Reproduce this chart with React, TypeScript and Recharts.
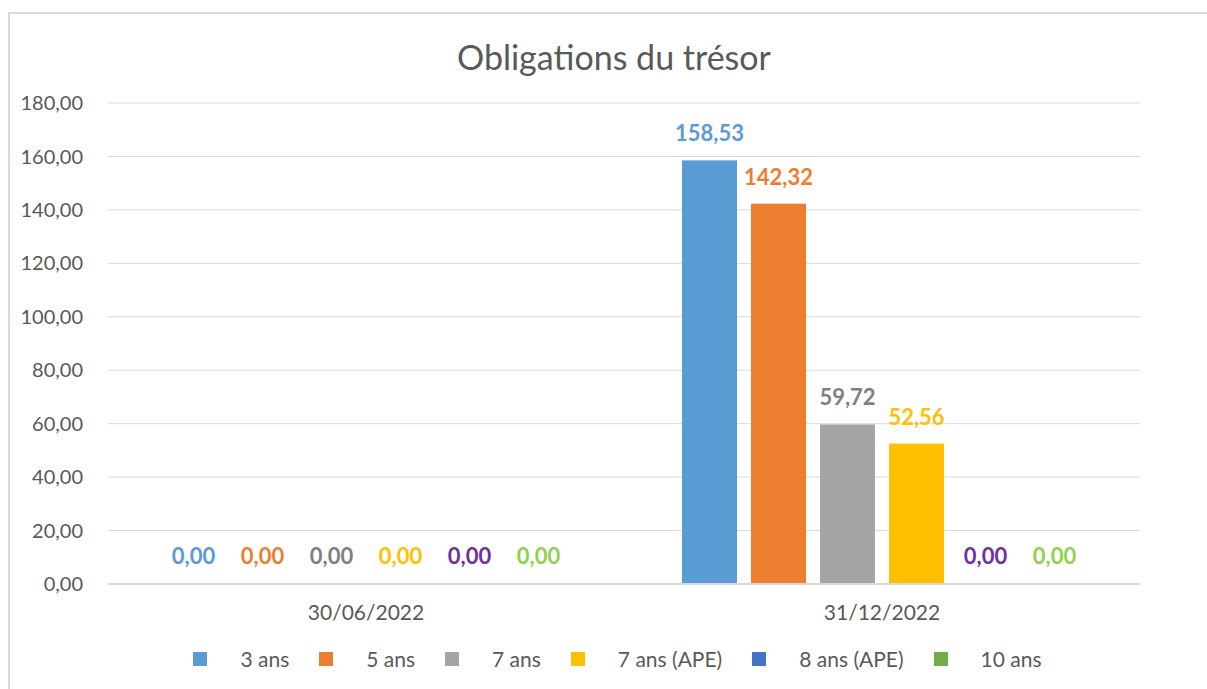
import { BarChart, Bar, XAxis, YAxis, CartesianGrid, Legend, LabelList } from "recharts";

const dates = ["30/06/2022", "31/12/2022"];
const ans3 = [0, 158.53];
const ans5 = [0, 142.32];
const ans7 = [0, 59.72];
const ans7ape = [0, 52.56];
const ans8ape = [0, 0];
const ans10 = [0, 0];
const yTicks = [0, 20, 40, 60, 80, 100, 120, 140, 160, 180];

const series = [
  { key: "ans3", name: "3 ans", fill: "#5B9BD5", label: "#5B9BD5" },
  { key: "ans5", name: "5 ans", fill: "#ED7D31", label: "#ED7D31" },
  { key: "ans7", name: "7 ans", fill: "#A5A5A5", label: "#7F7F7F" },
  { key: "ans7ape", name: "7 ans (APE)", fill: "#FFC000", label: "#FFC000" },
  { key: "ans8ape", name: "8 ans (APE)", fill: "#4472C4", label: "#7030A0" },
  { key: "ans10", name: "10 ans", fill: "#70AD47", label: "#92D050" },
];

const data = dates.map((d, i) => ({
  date: d,
  ans3: ans3[i],
  ans5: ans5[i],
  ans7: ans7[i],
  ans7ape: ans7ape[i],
  ans8ape: ans8ape[i],
  ans10: ans10[i],
}));

const fmt = (v: any) => Number(v).toFixed(2).replace(".", ",");
const font = "Lato, 'Open Sans', sans-serif";

// zero values still get a label, but no visible bar
const BarShape = (props: any) => {
  const { x, y, width, height, fill, value } = props;
  const v = Array.isArray(value) ? value[1] - value[0] : value;
  if (!v) return <g />;
  return <rect x={x} y={y} width={width} height={height} fill={fill} />;
};

function LegendContent() {
  return (
    <div style={{ display: "flex", justifyContent: "center", paddingLeft: 28, fontFamily: font, fontSize: 21, color: "#595959" }}>
      {series.map((s, i) => (
        <div key={s.key} style={{ display: "flex", alignItems: "center", marginRight: i < series.length - 1 ? 30 : 0 }}>
          <span style={{ width: 14, height: 14, background: s.fill, display: "inline-block", marginRight: 33 }} />
          <span>{s.name}</span>
        </div>
      ))}
    </div>
  );
}

export default function App() {
  return (
    <div style={{ position: "absolute", left: 0, top: 0, width: 1207, height: 689, background: "#fff", overflow: "hidden" }}>
      <div style={{ position: "absolute", left: 8, top: 12, width: 1220, height: 700, borderLeft: "2px solid #D9D9D9", borderTop: "2px solid #D9D9D9" }} />
      <div style={{ position: "absolute", left: 0, top: 36, width: 1228, textAlign: "center", fontFamily: font, fontSize: 34, color: "#595959" }}>
        Obligations du trésor
      </div>
      <div style={{ position: "absolute", left: 0, top: 0 }}>
        <BarChart
          width={1207}
          height={689}
          data={data}
          margin={{ top: 103, right: 67, bottom: 40, left: 0 }}
          barGap={14}
          barCategoryGap={58}
        >
          <CartesianGrid vertical={false} stroke="#D9D9D9" strokeWidth={1} />
          <XAxis
            dataKey="date"
            axisLine={{ stroke: "#D9D9D9", strokeWidth: 2 }}
            tickLine={false}
            tickSize={0}
            tickMargin={21}
            height={40}
            tick={{ fontSize: 21, fill: "#595959", fontFamily: font }}
          />
          <YAxis
            width={108}
            domain={[0, 180]}
            ticks={yTicks}
            axisLine={false}
            tickLine={false}
            tickSize={0}
            tickMargin={25}
            tickFormatter={fmt}
            tick={{ fontSize: 20, fill: "#595959", fontFamily: font }}
          />
          <Legend
            content={<LegendContent />}
            verticalAlign="bottom"
            wrapperStyle={{ left: 0, width: 1207, bottom: 18 }}
          />
          {series.map((s) => (
            <Bar
              key={s.key}
              dataKey={s.key}
              name={s.name}
              fill={s.fill}
              minPointSize={1}
              shape={<BarShape />}
              isAnimationActive={false}
            >
              <LabelList
                dataKey={s.key}
                position="top"
                offset={19}
                formatter={fmt}
                fill={s.label}
                style={{ fontSize: 22, fontWeight: 700, fontFamily: font }}
              />
            </Bar>
          ))}
        </BarChart>
      </div>
    </div>
  );
}
